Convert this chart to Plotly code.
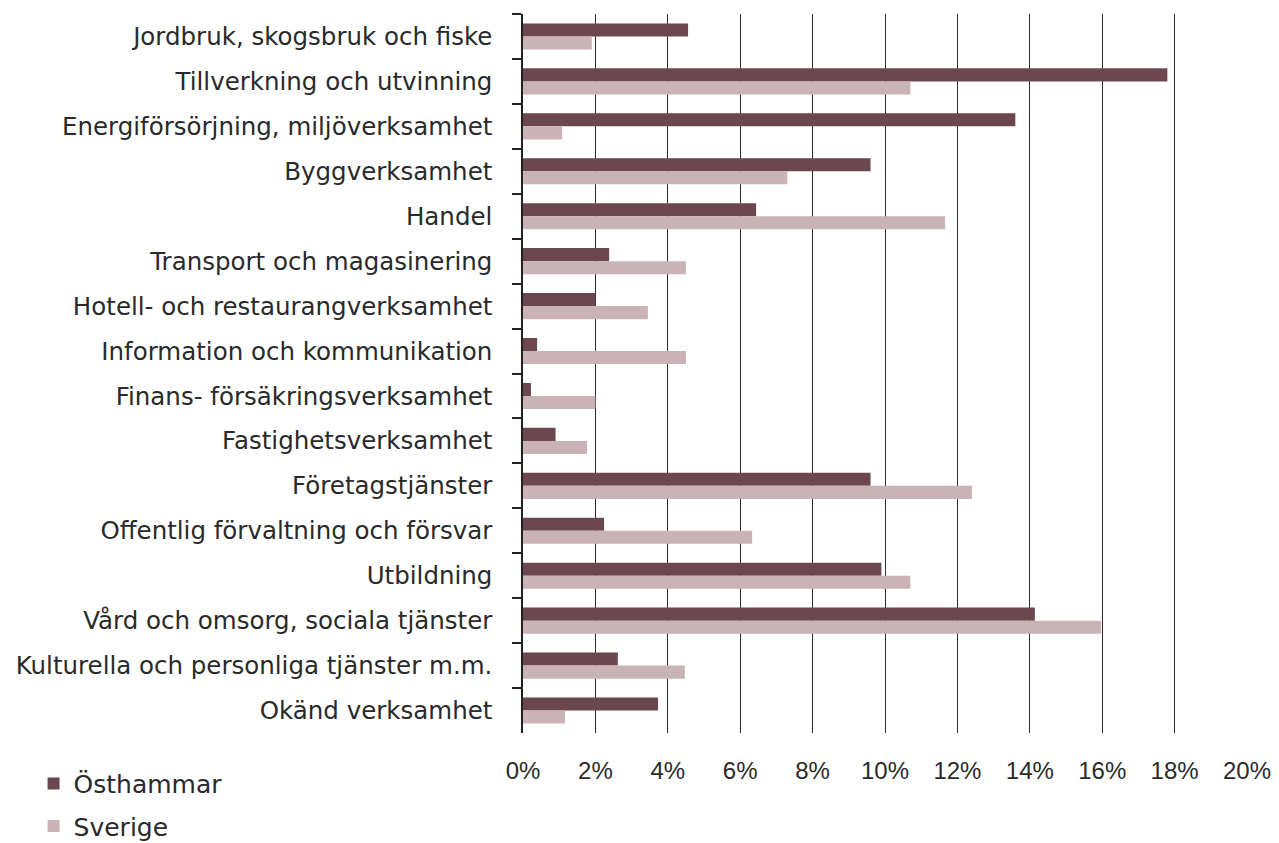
import plotly.graph_objects as go

categories = [
    "Jordbruk, skogsbruk och fiske",
    "Tillverkning och utvinning",
    "Energiförsörjning, miljöverksamhet",
    "Byggverksamhet",
    "Handel",
    "Transport och magasinering",
    "Hotell- och restaurangverksamhet",
    "Information och kommunikation",
    "Finans- försäkringsverksamhet",
    "Fastighetsverksamhet",
    "Företagstjänster",
    "Offentlig förvaltning och försvar",
    "Utbildning",
    "Vård och omsorg, sociala tjänster",
    "Kulturella och personliga tjänster m.m.",
    "Okänd verksamhet",
]
osthammar = [4.56, 17.8, 13.6, 9.6, 6.44, 2.38, 2.0, 0.39, 0.22, 0.9, 9.6, 2.24, 9.9, 14.14, 2.62, 3.73]
sverige = [1.9, 10.7, 1.08, 7.3, 11.66, 4.5, 3.45, 4.5, 2.0, 1.77, 12.4, 6.33, 10.7, 15.97, 4.47, 1.16]
xticks = [0, 2, 4, 6, 8, 10, 12, 14, 16, 18, 20]
xticklabels = [f"{v}%" for v in xticks]

fig = go.Figure()
fig.add_trace(go.Bar(y=categories, x=osthammar, orientation="h", name="Östhammar",
                     legendgroup="o",
                     marker=dict(color="#6c4750", line=dict(width=0))))
fig.add_trace(go.Bar(y=categories, x=sverige, orientation="h", name="Sverige",
                     legendgroup="s",
                     marker=dict(color="#c9b3b7", line=dict(width=0))))

label_font = "DejaVu Sans, sans-serif"
tick_font = "Liberation Sans, Arial, sans-serif"
fig.update_layout(
    width=1279, height=843,
    margin=dict(l=515, r=40, t=6, b=118),
    paper_bgcolor="white", plot_bgcolor="white",
    barmode="group", bargap=0.42, bargroupgap=0,
    font=dict(family=label_font, size=24.5, color="#2a2a2a"),
    showlegend=True,
    legend=dict(xref="container", yref="container", x=0.02, y=0.107,
                xanchor="left", yanchor="top", traceorder="grouped",
                font=dict(family=label_font, size=25, color="#2a2a2a"), itemwidth=30,
                tracegroupgap=7, bgcolor="rgba(0,0,0,0)"),
    xaxis=dict(range=[0, 20], tickvals=xticks, ticktext=xticklabels,
               showgrid=True, gridcolor="#2b2b2b", gridwidth=1,
               zeroline=False, showline=False, ticks="", automargin=False,
               ticklabelstandoff=21, tickfont=dict(family=tick_font, size=24, color="#2a2a2a")),
    yaxis=dict(autorange="reversed", showline=True, linecolor="#222", linewidth=1.5,
               ticks="outside", ticklen=9, tickcolor="#222", tickwidth=1.5,
               tickson="boundaries", showgrid=False, ticklabelstandoff=24, automargin=False,
               tickfont=dict(family=label_font, size=24.5, color="#2a2a2a")),
)

fig.write_html("out.html")
